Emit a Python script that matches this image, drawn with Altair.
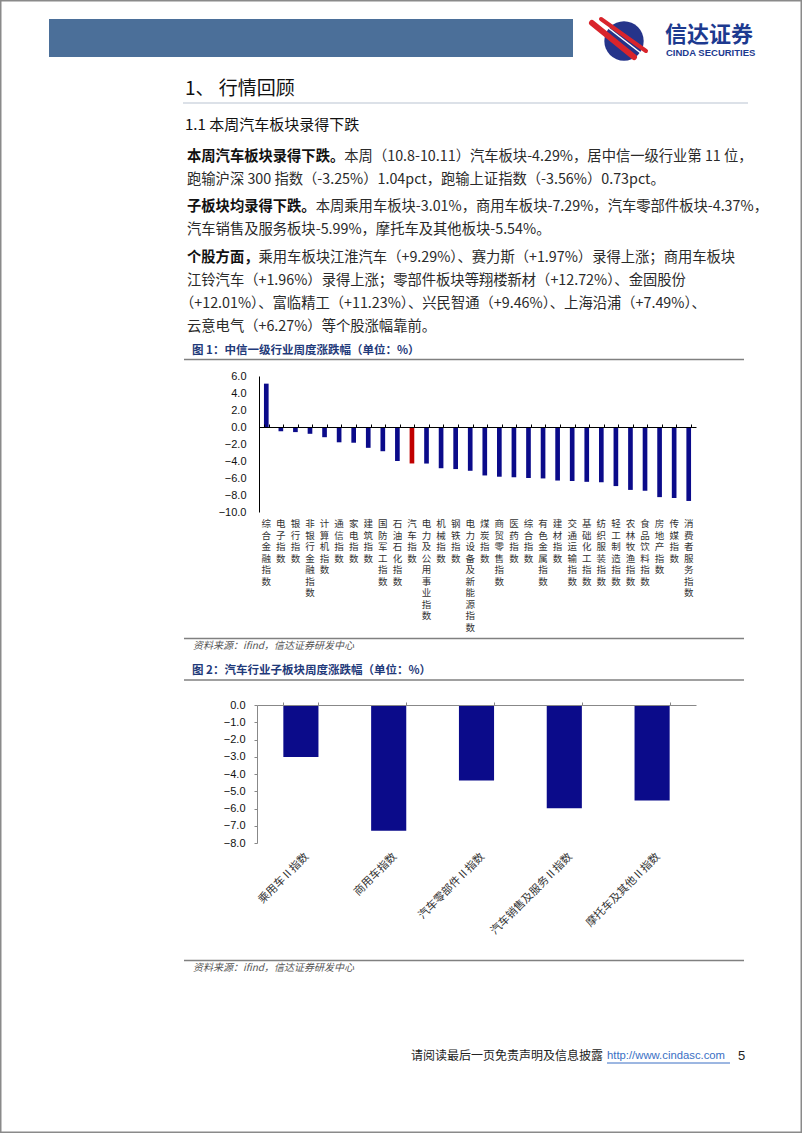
import altair as alt
import pandas as pd

W, H = 802, 1133

# ---------------- data ----------------
ind_names = ["综合金融指数", "电子指数", "银行指数", "非银行金融指数", "计算机指数", "通信指数",
             "家电指数", "建筑指数", "国防军工指数", "石油石化指数", "汽车指数", "电力及公用事业指数",
             "机械指数", "钢铁指数", "电力设备及新能源指数", "煤炭指数", "商贸零售指数", "医药指数",
             "综合指数", "有色金属指数", "建材指数", "交通运输指数", "基础化工指数", "纺织服装指数",
             "轻工制造指数", "农林牧渔指数", "食品饮料指数", "房地产指数", "传媒指数", "消费者服务指数"]
ind_values = [5.1, -0.5, -0.6, -0.8, -1.2, -1.8, -1.85, -2.45, -2.85, -4.0, -4.29, -4.3,
              -4.85, -4.95, -5.15, -5.7, -5.85, -5.9, -6.0, -6.05, -6.3, -6.35, -6.45, -6.5,
              -6.95, -7.4, -7.5, -8.25, -8.35, -8.7]
highlight_name = "汽车指数"

sub_names = ["乘用车Ⅱ指数", "商用车指数", "汽车零部件Ⅱ指数", "汽车销售及服务Ⅱ指数", "摩托车及其他Ⅱ指数"]
sub_values = [-3.01, -7.29, -4.37, -5.99, -5.54]

y1_ticks = [6, 4, 2, 0, -2, -4, -6, -8, -10]
y2_ticks = [0, -1, -2, -3, -4, -5, -6, -7, -8]

df1 = pd.DataFrame({
    "name": ind_names,
    "value": ind_values,
    "vert": ["\n".join(list(n)) for n in ind_names],
    "hl": ["汽车" if n == highlight_name else "其他" for n in ind_names],
})
df2 = pd.DataFrame({"name": sub_names, "value": sub_values})

one = pd.DataFrame({"k": [0]})

CJK = "Noto Sans CJK SC"
LAT = "Liberation Sans"
NAVY = "#0b0b8a"
RED = "#c00000"


def txt(s, x, y, size=14, weight="normal", color="#2a2a2a", font=CJK, align="left",
        baseline="middle", style="normal"):
    return alt.Chart(one).mark_text(
        text=s, font=font, fontSize=size, fontWeight=weight, color=color,
        align=align, baseline=baseline, fontStyle=style
    ).encode(x=alt.value(x), y=alt.value(y))


def hline(x1, x2, y, color="#808080", w=1.0):
    return alt.Chart(one).mark_rule(color=color, strokeWidth=w).encode(
        x=alt.value(x1), x2=alt.value(x2), y=alt.value(y))


def seg(x1, y1, x2, y2, color, w):
    return alt.Chart(one).mark_rule(color=color, strokeWidth=w, strokeCap="round").encode(
        x=alt.value(x1), x2=alt.value(x2), y=alt.value(y1), y2=alt.value(y2))


decor = []
# page border (outline only)
decor.append(alt.Chart(one).mark_rect(fillOpacity=0, stroke="#8a8a8a", strokeWidth=1.5).encode(
    x=alt.value(0.75), x2=alt.value(W - 0.75), y=alt.value(0.75), y2=alt.value(H - 0.75)))
# header band
decor.append(alt.Chart(one).mark_rect(color="#4b6f99").encode(
    x=alt.value(49), x2=alt.value(573), y=alt.value(19), y2=alt.value(57)))
# logo
decor.append(alt.Chart(one).mark_circle(color="#25348a", opacity=1, size=1550).encode(
    x=alt.value(624), y=alt.value(41)))
decor.append(seg(592, 23, 634, 57, "#d9242b", 6))
decor.append(seg(598, 20, 642, 54, "#ffffff", 1.5))
decor.append(seg(601, 19, 646, 51, "#d9242b", 4))
decor.append(txt("信达证券", 665, 35, size=22, weight="bold", color="#1d3a8f"))
decor.append(txt("CINDA SECURITIES", 666, 53, size=9.5, weight="bold", color="#1d3a8f", font=LAT))

# headings
decor.append(txt("1、 行情回顾", 185, 89, size=19, color="#111111"))
decor.append(hline(183, 748, 103, color="#b9c3d1", w=1.2))
decor.append(txt("1.1 本周汽车板块录得下跌", 185, 125, size=15, color="#111111"))

# paragraphs
F = 14.3
X0 = 187
decor.append(txt("本周汽车板块录得下跌。", X0, 157, size=F, weight="bold", color="#111111"))
decor.append(txt("本周（10.8-10.11）汽车板块-4.29%，居中信一级行业第 11 位，", X0 + 11 * F, 157, size=F))
decor.append(txt("跑输沪深 300 指数（-3.25%）1.04pct，跑输上证指数（-3.56%）0.73pct。", X0, 180, size=F))
decor.append(txt("子板块均录得下跌。", X0, 207, size=F, weight="bold", color="#111111"))
decor.append(txt("本周乘用车板块-3.01%，商用车板块-7.29%，汽车零部件板块-4.37%，", X0 + 9 * F, 207, size=F))
decor.append(txt("汽车销售及服务板块-5.99%，摩托车及其他板块-5.54%。", X0, 230, size=F))
decor.append(txt("个股方面，", X0, 258, size=F, weight="bold", color="#111111"))
decor.append(txt("乘用车板块江淮汽车（+9.29%）、赛力斯（+1.97%）录得上涨；商用车板块", X0 + 5 * F, 258, size=F))
decor.append(txt("江铃汽车（+1.96%）录得上涨；零部件板块等翔楼新材（+12.72%）、金固股份", X0, 281, size=F))
decor.append(txt("（+12.01%）、富临精工（+11.23%）、兴民智通（+9.46%）、上海沿浦（+7.49%）、", X0 - 7, 304, size=F))
decor.append(txt("云意电气（+6.27%）等个股涨幅靠前。", X0, 327, size=F))

# chart titles / sources
decor.append(txt("图 1：中信一级行业周度涨跌幅（单位：%）", 192, 351, size=11.5, weight="bold", color="#1f3a7a"))
decor.append(hline(184, 744, 359.5, w=1.5))
decor.append(hline(184, 744, 638.5, w=1.5))
decor.append(txt("资料来源：ifind，信达证券研发中心", 193, 646, size=10, color="#555555", style="italic"))
decor.append(txt("图 2：汽车行业子板块周度涨跌幅（单位：%）", 192, 671, size=11.5, weight="bold", color="#1f3a7a"))
decor.append(hline(184, 744, 680, w=1.5))
decor.append(hline(184, 744, 960.5, w=1.5))
decor.append(txt("资料来源：ifind，信达证券研发中心", 193, 968, size=10, color="#555555", style="italic"))

# footer
decor.append(txt("请阅读最后一页免责声明及信息披露", 411, 1056, size=12, color="#222222"))
decor.append(txt("http://www.cindasc.com", 607, 1056, size=11.3, color="#3a6fc4", font=LAT))
decor.append(hline(607, 730, 1063, color="#3a6fc4", w=1))
decor.append(txt("5", 738, 1056, size=13, color="#222222", font=LAT))

# ---------------- chart 1 ----------------
xs1 = alt.Scale(domain=ind_names, range=[259, 696], paddingInner=0.68, paddingOuter=0.34)
ys1 = alt.Scale(domain=[-10, 6], range=[512, 376], nice=False, zero=False)
x1_axis = alt.Axis(orient="top", offset=-427, labels=False, title=None, domain=True,
                   domainColor="#000000", domainWidth=1, ticks=True, tickBand="extent",
                   tickSize=3, tickColor="#000000", grid=False, zindex=2)
y1_axis = alt.Axis(orient="left", offset=-259, values=y1_ticks, format=".1f", title=None,
                   grid=False, ticks=False, domain=True, domainColor="#000000",
                   labelFont=LAT, labelFontSize=11, labelColor="#111111", labelPadding=13,
                   zindex=2)

bars1 = alt.Chart(df1).mark_bar().encode(
    x=alt.X("name:N", scale=xs1, axis=x1_axis, sort=ind_names),
    y=alt.Y("value:Q", scale=ys1, axis=y1_axis),
    color=alt.Color("hl:N", scale=alt.Scale(domain=["汽车", "其他"], range=[RED, NAVY]), legend=None),
)
labels1 = alt.Chart(df1).mark_text(
    font=CJK, fontSize=9.5, lineBreak="\n", lineHeight=11.5, baseline="top", align="center",
    color="#333333"
).encode(
    x=alt.X("name:N", scale=xs1, axis=x1_axis, sort=ind_names),
    y=alt.value(519),
    text="vert:N",
)
chart1 = alt.layer(bars1, labels1)

# ---------------- chart 2 ----------------
xs2 = alt.Scale(domain=sub_names, range=[257, 696], paddingInner=0.6, paddingOuter=0.3)
ys2 = alt.Scale(domain=[-8, 0], range=[843, 705], nice=False, zero=False)
x2_axis = alt.Axis(orient="top", offset=-705, labels=False, title=None, domain=True,
                   domainColor="#888888", domainWidth=1, ticks=True, tickBand="extent",
                   tickSize=3, tickColor="#888888", grid=False, zindex=2)
y2_axis = alt.Axis(orient="left", offset=-257, values=y2_ticks, format=".1f", title=None,
                   grid=False, ticks=True, tickSize=3, tickColor="#888888", domain=True,
                   domainColor="#888888", labelFont=LAT, labelFontSize=11,
                   labelColor="#111111", labelPadding=9, zindex=2)

bars2 = alt.Chart(df2).mark_bar(color=NAVY).encode(
    x=alt.X("name:N", scale=xs2, axis=x2_axis, sort=sub_names),
    y=alt.Y("value:Q", scale=ys2, axis=y2_axis),
)
labels2 = alt.Chart(df2).mark_text(
    font=CJK, fontSize=11, angle=315, align="right", baseline="top", color="#333333", dx=3
).encode(
    x=alt.X("name:N", scale=xs2, axis=x2_axis, sort=sub_names),
    y=alt.value(853),
    text="name:N",
)
chart2 = alt.layer(bars2, labels2)

chart = alt.layer(*decor, chart1, chart2).resolve_scale(
    x="independent", y="independent", color="independent"
).properties(
    width=W, height=H, padding=0, autosize="none"
).configure_view(stroke=None)

chart.save("out.html", embed_options={"renderer": "svg", "actions": False})
